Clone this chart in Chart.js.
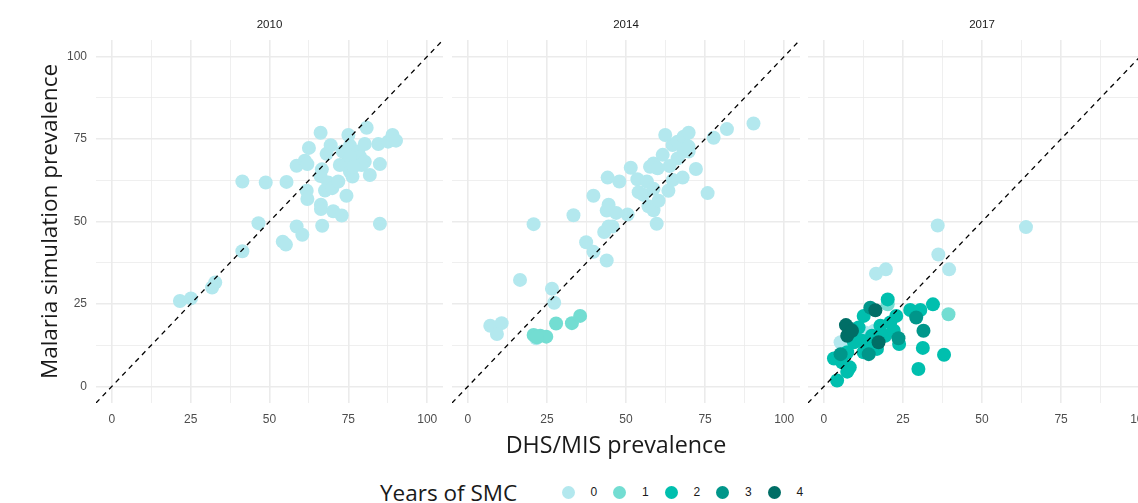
<!DOCTYPE html>
<html lang="en">
<head>
  <meta charset="UTF-8">
  <title>Malaria simulation vs DHS/MIS prevalence</title>
  <script src="https://cdn.jsdelivr.net/npm/chart.js"></script>
  <style>
    body {
      margin: 0;
      width: 1138px;
      height: 503px;
      overflow: hidden;
      position: relative;
      background: #fff;
      font-family: "Liberation Sans", Arial, sans-serif;
    }
    canvas { position: absolute; top: 0; }
    #xtitle {
      position: absolute;
      left: 96px;
      width: 1040px;
      top: 428px;
      text-align: center;
      font-family: "Open Sans", sans-serif;
      font-size: 23.3px;
      color: #1a1a1a;
    }
    #legend {
      position: absolute;
      left: 380px;
      top: 477px;
      height: 30px;
      display: flex;
      align-items: center;
      color: #1a1a1a;
    }
    #legend .ttl {
      font-family: "Open Sans", sans-serif;
      font-size: 22.5px;
      width: 181.5px;
    }
    #legend .dot {
      display: inline-block;
      width: 13px;
      height: 13px;
      border-radius: 50%;
      margin-right: 16px;
    }
    #legend .lab {
      font-size: 12px;
      width: 8px;
      margin-right: 14.5px;
    }
  </style>
</head>
<body>
  <canvas id="c2010" width="443" height="430" style="left:0px"></canvas>
  <canvas id="c2014" width="348" height="430" style="left:452px"></canvas>
  <canvas id="c2017" width="348" height="430" style="left:808px"></canvas>
  <div id="xtitle">DHS/MIS prevalence</div>
  <div id="legend"></div>

  <script>
    // facets and groups
    const years = ["2010", "2014", "2017"];
    const smcLevels = ["0", "1", "2", "3", "4"];
    const smcColors = ["#b3e8ee", "#73ddd2", "#00bfae", "#00968a", "#006e66"];

    // grid positions and the labelled ticks
    const gridVals = [0, 12.5, 25, 37.5, 50, 62.5, 75, 87.5, 100];
    const tickLabels = [0, 25, 50, 75, 100];

    // 2010, SMC 0
    const x2010_0 = [21.6, 25.1, 31.8, 32.8, 41.4, 41.4, 46.5, 48.8, 54.2, 55.2, 55.4, 58.6, 60.4, 58.6, 61.2, 62.0, 62.5, 61.8, 62.0, 66.2, 66.3, 66.3, 66.7, 66.6, 66.2, 67.6, 68.6, 68.1, 69.4, 69.9, 70.2, 72.9, 71.8, 72.3, 73.2, 74.4, 75.0, 75.5, 74.4, 75.5, 76.3, 77.1, 78.1, 78.7, 80.2, 80.8, 80.2, 79.2, 81.8, 84.5, 85.0, 85.0, 87.6, 89.0, 90.1, 75.5, 76.6];
    const y2010_0 = [25.9, 26.7, 30.0, 31.5, 41.0, 62.1, 49.5, 61.8, 43.9, 43.0, 62.0, 48.5, 46.0, 66.9, 68.4, 67.4, 72.3, 59.3, 56.8, 76.9, 55.1, 53.8, 48.7, 65.8, 63.8, 59.4, 61.8, 70.5, 73.1, 60.1, 53.1, 51.8, 62.1, 67.1, 71.2, 57.8, 76.2, 73.0, 67.6, 65.1, 63.6, 67.8, 71.2, 69.6, 73.5, 78.4, 68.1, 67.1, 64.1, 73.5, 67.4, 49.3, 74.2, 76.2, 74.5, 69.6, 66.6];

    // 2014, SMC 0 and 1
    const x2014_0 = [7.1, 10.7, 9.2, 16.5, 20.8, 26.6, 27.3, 21.6, 33.4, 37.4, 39.7, 39.7, 43.9, 43.1, 44.5, 45.7, 43.9, 44.5, 46.9, 44.2, 47.9, 50.5, 51.5, 53.6, 54.0, 56.6, 55.5, 57.1, 58.7, 58.7, 60.3, 59.7, 58.7, 57.6, 60.0, 61.6, 62.4, 63.4, 63.8, 64.8, 64.7, 66.3, 66.3, 67.9, 68.2, 69.8, 68.2, 69.8, 72.1, 75.8, 77.7, 81.9, 90.3, 69.8];
    const y2014_0 = [18.4, 19.2, 15.9, 32.3, 49.2, 29.6, 25.4, 14.6, 51.9, 43.7, 40.8, 57.8, 38.2, 46.8, 48.5, 48.5, 53.3, 55.1, 52.6, 63.3, 62.1, 52.1, 66.3, 62.8, 58.9, 62.1, 58.1, 54.6, 53.4, 59.9, 56.3, 49.3, 67.6, 66.6, 66.1, 70.2, 76.2, 59.3, 66.8, 62.6, 73.2, 69.1, 74.2, 63.3, 75.7, 76.9, 71.2, 71.2, 65.9, 58.6, 75.4, 78.0, 79.7, 72.7];
    const x2014_1 = [20.8, 22.9, 24.8, 21.8, 27.9, 32.9, 35.5];
    const y2014_1 = [15.6, 15.4, 15.1, 14.9, 19.1, 19.2, 21.4];

    // 2017, SMC 0 to 4
    const x2017_0 = [36.0, 63.9, 36.2, 39.6, 16.5, 19.6, 5.3, 13.1, 16.0];
    const y2017_0 = [48.8, 48.3, 40.0, 35.5, 34.2, 35.5, 13.4, 16.4, 16.9];
    const x2017_1 = [39.4, 20.2];
    const y2017_1 = [21.9, 24.9];
    const x2017_2 = [4.2, 7.4, 8.2, 3.2, 7.4, 5.8, 9.5, 11.0, 12.6, 10.0, 12.1, 12.6, 13.7, 15.2, 17.3, 16.8, 17.9, 19.4, 20.2, 21.0, 22.1, 22.9, 23.8, 27.3, 30.5, 34.5, 31.3, 29.9, 38.0];
    const y2017_2 = [1.8, 4.5, 5.8, 8.5, 10.4, 7.3, 13.4, 17.9, 21.4, 14.4, 13.9, 10.4, 12.9, 15.4, 14.4, 11.4, 18.4, 15.4, 26.4, 19.4, 16.9, 21.4, 12.9, 23.2, 23.2, 24.9, 11.7, 5.3, 9.6];
    const x2017_3 = [5.3, 14.7, 23.6, 29.2, 31.5, 14.2, 8.4];
    const y2017_3 = [9.8, 23.9, 14.6, 20.9, 16.9, 9.8, 17.4];
    const x2017_4 = [7.0, 7.4, 16.3, 8.9, 17.3];
    const y2017_4 = [18.6, 15.4, 23.1, 16.9, 13.4];

    const panelData = {
      "2010": [[x2010_0, y2010_0]],
      "2014": [[x2014_0, y2014_0], [x2014_1, y2014_1]],
      "2017": [[x2017_0, y2017_0], [x2017_1, y2017_1], [x2017_2, y2017_2], [x2017_3, y2017_3], [x2017_4, y2017_4]]
    };

    const tickFont = { family: "Liberation Sans", size: 12 };

    // facet strip label above each panel
    const stripPlugin = {
      id: "strip",
      afterDraw(chart, args, opts) {
        const { ctx, chartArea } = chart;
        ctx.save();
        ctx.font = "11.5px 'Liberation Sans'";
        ctx.fillStyle = "#1a1a1a";
        ctx.textAlign = "center";
        ctx.textBaseline = "middle";
        ctx.fillText(opts.text, (chartArea.left + chartArea.right) / 2, 25);
        ctx.restore();
      }
    };

    function gridOpts() {
      return {
        color: "#ebebeb",
        lineWidth: ctx => (ctx.tick && ctx.tick.value % 25 === 0 ? 1.6 : 0.8),
        drawTicks: false
      };
    }

    function setTicks(scale) {
      scale.ticks = gridVals.map(v => ({ value: v }));
    }

    function labelCb(v) {
      return tickLabels.includes(v) ? String(v) : "";
    }

    // no extra room for edge labels: panels keep their full size
    function noPad(s) {
      s.paddingLeft = 0;
      s.paddingRight = 0;
      s.paddingTop = 0;
      s.paddingBottom = 0;
    }

    function makeChart(year, first) {
      const datasets = [{
        type: "line",
        data: [{ x: -5, y: -5 }, { x: 105, y: 105 }],
        borderColor: "#000",
        borderWidth: 1.3,
        borderDash: [5, 4.5],
        pointRadius: 0,
        order: 0
      }];
      panelData[year].forEach((pair, i) => {
        datasets.push({
          type: "scatter",
          label: smcLevels[i],
          data: pair[0].map((x, j) => ({ x: x, y: pair[1][j] })),
          backgroundColor: smcColors[i],
          borderWidth: 0,
          pointRadius: 7,
          pointHoverRadius: 7,
          order: 10 - i
        });
      });

      return new Chart(document.getElementById("c" + year), {
        type: "scatter",
        data: { datasets: datasets },
        options: {
          responsive: false,
          animation: false,
          devicePixelRatio: 1,
          layout: { autoPadding: false, padding: { top: 40, left: 0, right: 0, bottom: 0 } },
          plugins: {
            legend: { display: false },
            tooltip: { enabled: false },
            strip: { text: year }
          },
          scales: {
            x: {
              type: "linear",
              min: -5,
              max: 105,
              border: { display: false },
              grid: gridOpts(),
              afterBuildTicks: setTicks,
              afterFit: s => { s.height = 27; noPad(s); },
              ticks: {
                callback: labelCb,
                color: "#4d4d4d",
                font: tickFont,
                padding: 9,
                maxRotation: 0,
                autoSkip: false
              }
            },
            y: {
              type: "linear",
              min: -5,
              max: 105,
              border: { display: false },
              grid: gridOpts(),
              afterBuildTicks: setTicks,
              afterFit: s => { s.width = first ? 96 : 0; noPad(s); },
              ticks: {
                display: first,
                callback: labelCb,
                color: "#4d4d4d",
                font: tickFont,
                padding: 9,
                autoSkip: false
              },
              title: {
                display: first,
                text: "Malaria simulation prevalence",
                color: "#1a1a1a",
                font: { family: "Open Sans", size: 22.5 },
                padding: { top: 37, bottom: 0 }
              }
            }
          }
        },
        plugins: [stripPlugin]
      });
    }

    years.forEach((y, i) => makeChart(y, i === 0));

    // legend
    const legend = document.getElementById("legend");
    legend.innerHTML = '<span class="ttl">Years of SMC</span>' +
      smcLevels.map((l, i) =>
        `<span class="dot" style="background:${smcColors[i]}"></span><span class="lab">${l}</span>`
      ).join("");
  </script>
</body>
</html>
